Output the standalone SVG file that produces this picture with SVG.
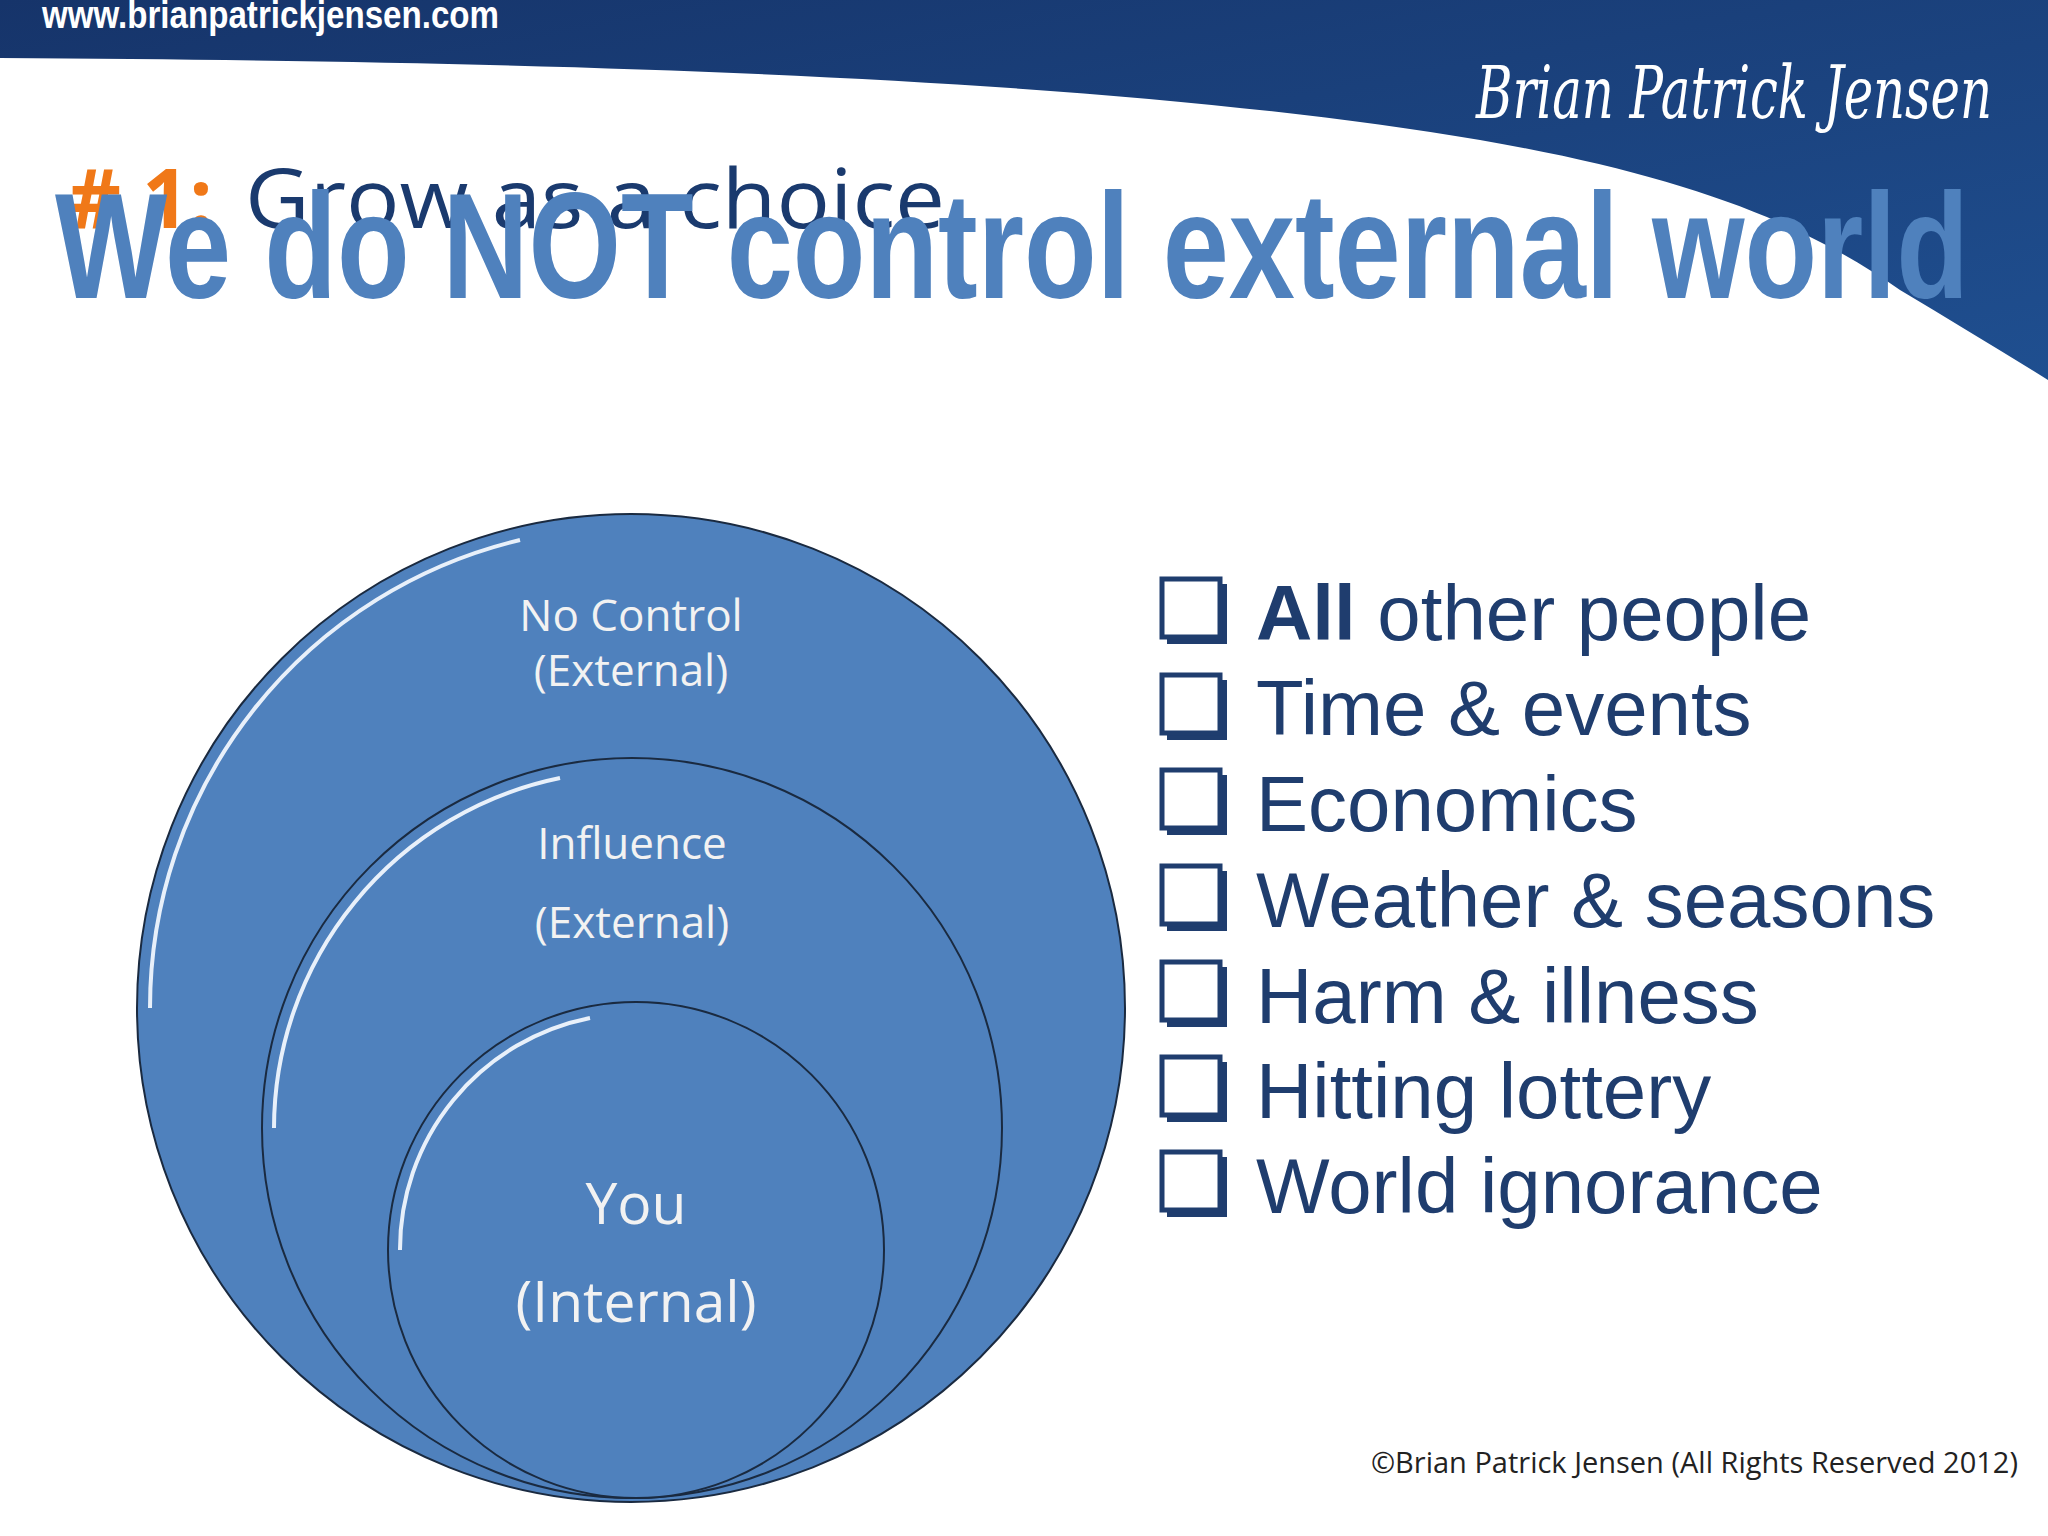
<svg xmlns="http://www.w3.org/2000/svg" width="2048" height="1536" viewBox="0 0 2048 1536">
<defs>
<style>
.c{fill:#4f81bd;stroke:#1a2a40;stroke-width:2}
.hl{fill:none;stroke:#e8f0fa;stroke-width:4}
.ct{font-family:"Open Sans","Liberation Sans",sans-serif;fill:#f2f2f2;text-anchor:middle}
.li{font-family:"Liberation Sans",Arial,sans-serif;font-size:78px;fill:#1f3d6e}
.bx{fill:#fff;stroke:#1f3d6e;stroke-width:5}
.bs{fill:#1f3d6e}
</style>
<linearGradient id="hg" x1="0" y1="0" x2="1" y2="1">
<stop offset="0" stop-color="#16346a"/><stop offset="1" stop-color="#1f4f90"/>
</linearGradient>
</defs>
<rect width="2048" height="1536" fill="#fff"/>
<g id="header">
<path d="M0 0 H2048 V380 C2000 350 1950 320 1900 290 C1800 220 1680 175 1480 140 C1150 85 700 62 0 58 Z" fill="url(#hg)"/>
<text x="42" y="28" font-family="Liberation Sans,Arial,sans-serif" font-weight="bold" font-size="38" fill="#fff" textLength="457" lengthAdjust="spacingAndGlyphs">www.brianpatrickjensen.com</text>
<text x="1476" y="118" font-family="DejaVu Serif,serif" font-style="italic" font-size="72" fill="#fff" textLength="516" lengthAdjust="spacingAndGlyphs">Brian Patrick Jensen</text>
</g>
<g id="title">
<text x="68" y="228" font-family="Open Sans,Liberation Sans,sans-serif" font-size="82" fill="#1a3a6e"><tspan fill="#f07818" font-weight="bold"># 1:</tspan><tspan x="245" textLength="700" lengthAdjust="spacingAndGlyphs">Grow as a choice</tspan></text>
<text x="55" y="298" font-family="Liberation Sans,Arial,sans-serif" font-weight="bold" font-size="150" fill="#4f81bd" textLength="1914" lengthAdjust="spacingAndGlyphs">We do NOT control external world</text>
</g>
<g id="outer">
<circle class="c" cx="631" cy="1008" r="494"/>
<path class="hl" d="M150 1008 A481 481 0 0 1 520 540"/>
<text class="ct" x="631" y="631" font-size="44">No Control</text>
<text class="ct" x="631" y="686" font-size="44">(External)</text>
</g>
<g id="middle">
<circle class="c" cx="632" cy="1128" r="370"/>
<path class="hl" d="M274 1128 A358 358 0 0 1 560 778"/>
<text class="ct" x="632" y="859" font-size="44">Influence</text>
<text class="ct" x="632" y="938" font-size="44">(External)</text>
</g>
<g id="inner">
<circle class="c" cx="636" cy="1250" r="248"/>
<path class="hl" d="M400 1250 A236 236 0 0 1 590 1018"/>
<text class="ct" x="636" y="1224" font-size="57">You</text>
<text class="ct" x="636" y="1322" font-size="57">(Internal)</text>
</g>
<g id="list">
<g id="i1"><rect class="bs" x="1167" y="584" width="60" height="60"/><rect class="bx" x="1162" y="579" width="58" height="58"/><text class="li" x="1256" y="640"><tspan font-weight="bold">All</tspan> other people</text></g>
<g id="i2"><rect class="bs" x="1167" y="680" width="60" height="60"/><rect class="bx" x="1162" y="675" width="58" height="58"/><text class="li" x="1256" y="735">Time &amp; events</text></g>
<g id="i3"><rect class="bs" x="1167" y="775" width="60" height="60"/><rect class="bx" x="1162" y="770" width="58" height="58"/><text class="li" x="1256" y="831">Economics</text></g>
<g id="i4"><rect class="bs" x="1167" y="871" width="60" height="60"/><rect class="bx" x="1162" y="866" width="58" height="58"/><text class="li" x="1256" y="927">Weather &amp; seasons</text></g>
<g id="i5"><rect class="bs" x="1167" y="967" width="60" height="60"/><rect class="bx" x="1162" y="962" width="58" height="58"/><text class="li" x="1256" y="1023">Harm &amp; illness</text></g>
<g id="i6"><rect class="bs" x="1167" y="1062" width="60" height="60"/><rect class="bx" x="1162" y="1057" width="58" height="58"/><text class="li" x="1256" y="1118">Hitting lottery</text></g>
<g id="i7"><rect class="bs" x="1167" y="1157" width="60" height="60"/><rect class="bx" x="1162" y="1152" width="58" height="58"/><text class="li" x="1256" y="1213">World ignorance</text></g>
</g>
<text x="2018" y="1473" text-anchor="end" font-family="Open Sans,Liberation Sans,sans-serif" font-size="29" fill="#222">©Brian Patrick Jensen (All Rights Reserved 2012)</text>
</svg>
